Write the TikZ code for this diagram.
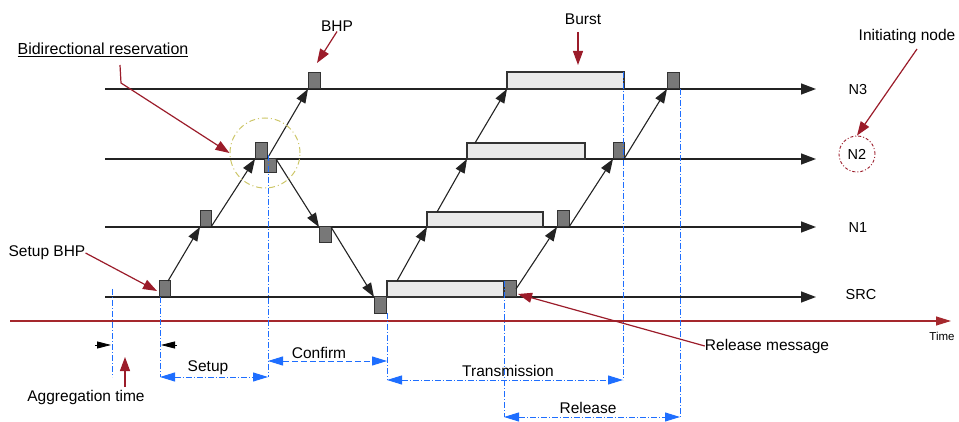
\documentclass[tikz,border=0pt]{standalone}
\usepackage{fontspec}
\setmainfont{Liberation Sans}
\usetikzlibrary{arrows.meta,calc}
\definecolor{leadred}{RGB}{155,28,42}
\definecolor{axisred}{RGB}{165,40,45}
\definecolor{dimblue}{RGB}{30,110,255}
\definecolor{ringyel}{RGB}{205,198,105}
\definecolor{bhpgray}{RGB}{120,120,120}
\definecolor{burstgray}{RGB}{234,234,234}
\definecolor{linegray}{RGB}{35,35,35}

\begin{document}
\begin{tikzpicture}[x=1pt,y=-1pt,
  lbl/.style={font=\fontsize{15.5}{18}\selectfont, inner sep=0pt},
  nodelbl/.style={font=\fontsize{14.5}{17}\selectfont, inner sep=0pt},
  timeline/.style={draw=linegray, line width=1.4pt, -{Triangle[length=15pt,width=11pt]}},
  sig/.style={draw=linegray, line width=1.1pt, -{Triangle[length=14pt,width=10pt]}},
  bhp/.style={draw=black!80, fill=bhpgray, line width=1pt, inner sep=0pt, outer sep=0pt, minimum width=11pt, minimum height=16pt},
  burst/.style={draw=black!80, fill=burstgray, line width=1.1pt, inner sep=0pt, outer sep=0pt, minimum height=16pt},
  lead/.style={draw=leadred, line width=1.2pt, -{Triangle[length=14pt,width=10pt]}},
  guide/.style={draw=dimblue, line width=1pt, dash pattern=on 6pt off 2pt on 1pt off 2pt},
  dim/.style={guide, {Triangle[length=15pt,width=9pt]}-{Triangle[length=15pt,width=9pt]}},
  aggtip/.style={draw=black, line width=0.8pt, -{Triangle[length=14pt,width=7pt]}},
]
\useasboundingbox (0,0) rectangle (959,422);

% ---- time lines of the four nodes and the time axis
\coordinate (n3a) at (105,89);  \coordinate (n3b) at (816,89);
\coordinate (n2a) at (105,159); \coordinate (n2b) at (816,159);
\coordinate (n1a) at (105,227); \coordinate (n1b) at (816,227);
\coordinate (sa)  at (105,297); \coordinate (sb)  at (816,297);
\coordinate (ta)  at (10,321);  \coordinate (tb)  at (951,321);
\draw[timeline] (n3a) -- (n3b);
\draw[timeline] (n2a) -- (n2b);
\draw[timeline] (n1a) -- (n1b);
\draw[timeline] (sa) -- (sb);
\draw[draw=axisred, line width=1.1pt, -{Triangle[length=15pt,width=9pt]}] (ta) -- (tb);

\node[nodelbl] (n3) at (858,90) {N3};
\node[nodelbl, circle, draw=leadred, line width=0.9pt, dash pattern=on 3pt off 2pt on 1pt off 2pt, minimum size=36pt] (n2) at (857,154) {N2};
\node[nodelbl] (n1) at (858,228) {N1};
\node[nodelbl] (src) at (861,295) {SRC};
\node[font=\fontsize{11.5}{13}\selectfont, inner sep=0pt] (time) at (942,336) {Time};

% ---- setup BHP travelling upwards
\node[bhp, anchor=south west] (bS) at (159,297) {};
\node[bhp, anchor=south west] (b1) at (200,227) {};
\node[bhp, anchor=south west, minimum width=12pt] (b2a) at (255,159) {};
\node[bhp, anchor=north west, minimum width=12pt, minimum height=14pt] (b2b) at (264,159) {};
\node[bhp, anchor=south west, minimum width=12pt] (b3) at (308,89) {};
% ---- confirmation travelling back down
\node[bhp, anchor=north west, minimum width=12pt] (c1) at (319,227) {};
\node[bhp, anchor=north west, minimum width=12pt] (cS) at (374,297) {};
% ---- bursts
\node[burst, anchor=south west, minimum width=117pt] (uS) at (387,297) {};
\node[burst, anchor=south west, minimum width=116pt, minimum height=15pt] (u1) at (427,227) {};
\node[burst, anchor=south west, minimum width=118pt] (u2) at (467,159) {};
\node[burst, anchor=south west, minimum width=117pt, minimum height=17pt] (u3) at (507,89) {};
% ---- release messages
\node[bhp, anchor=south west, minimum width=12pt] (rS) at (504,297) {};
\node[bhp, anchor=south west, minimum width=12pt] (r1) at (557,227) {};
\node[bhp, anchor=south west] (r2) at (613,159) {};
\node[bhp, anchor=south west, minimum width=12pt] (r3) at (667,89) {};

% ---- signalling arrows
\draw[sig] ([xshift=-2pt]bS.north east) -- (b1.south west);
\draw[sig] (b1.south east) -- (b2a.south west);
\draw[sig] (b2a.south east) -- (b3.south west);
\draw[sig] (b2b.north east) -- (c1.north west);
\draw[sig] (c1.north east) -- (cS.north west);
\draw[sig] ([xshift=10pt]uS.north west) -- (u1.south west);
\draw[sig] ([xshift=10pt]u1.north west) -- (u2.south west);
\draw[sig] ([xshift=8pt]u2.north west) -- (u3.south west);
\draw[sig] (rS.east) -- (r1.south west);
\draw[sig] (r1.south east) -- (r2.south west);
\draw[sig] (r2.south east) -- (r3.south west);

% ---- highlighted bidirectional reservation
\node[circle, draw=ringyel, line width=1pt, dash pattern=on 6pt off 3pt on 1pt off 3pt, minimum size=70pt, inner sep=0pt] (ring) at (265,153) {};

% ---- blue guide lines
\coordinate (g0a) at (112,289); \coordinate (g0b) at (112,377);
\coordinate (g1a) at (160,297); \coordinate (g1b) at (160,377);
\coordinate (g2a) at (268,155); \coordinate (g2b) at (268,377);
\coordinate (g3a) at (387,313); \coordinate (g3b) at (387,380);
\coordinate (g4a) at (623,72);  \coordinate (g4b) at (623,380);
\coordinate (g5a) at (504,281); \coordinate (g5b) at (504,417);
\coordinate (g6a) at (680,89);  \coordinate (g6b) at (680,417);
\foreach \g in {0,...,6} \draw[guide] (g\g a) -- (g\g b);

% ---- interval markers
\coordinate (aggL) at (95,345);  \coordinate (aggLt) at (111,345);
\coordinate (aggR) at (177,345); \coordinate (aggRt) at (161,345);
\draw[aggtip] (aggL) -- (aggLt);
\draw[aggtip] (aggR) -- (aggRt);

\coordinate (setL) at (160,377); \coordinate (setR) at (268,377);
\coordinate (conL) at (268,361); \coordinate (conR) at (387,361);
\coordinate (traL) at (387,380); \coordinate (traR) at (623,380);
\coordinate (relL) at (504,417); \coordinate (relR) at (680,417);
\draw[dim] (setL) -- (setR);
\draw[dim, dash pattern=on 6pt off 3pt] (conL) -- (conR);
\draw[dim] (traL) -- (traR);
\draw[dim] (relL) -- (relR);

\node[lbl] (setup) at (208,368) {Setup};
\node[lbl] (confirm) at (319,353) {Confirm};
\node[lbl] (trans) at (508,371) {Transmission};
\node[lbl] (release) at (588,408) {Release};

% ---- annotations with red leaders
\node[lbl, font=\fontsize{16}{19}\selectfont] (bidir) at (103,50) {\underline{Bidirectional\ reservation}};
\coordinate (bidirA) at (120,65);
\coordinate (bidirB) at (121,83);
\draw[lead] (bidirA) -- (bidirB) -- (ring.west);

\node[lbl] (bhplbl) at (337,26) {BHP};
\coordinate (bhptip) at (317,63);
\draw[lead] (bhplbl.south) -- (bhptip);

\node[lbl] (burstlbl) at (583,19) {Burst};
\coordinate (bursttop) at (578,32);
\coordinate (bursttip) at (578,65);
\draw[lead] (bursttop) -- (bursttip);

\node[lbl] (initlbl) at (907,36) {Initiating node};
\coordinate (inittop) at (917,49);
\draw[lead] (inittop) -- (n2.north);

\node[lbl] (setupbhp) at (47,253) {Setup BHP};
\coordinate (sbtip) at (157,291);
\draw[lead] (setupbhp.east) -- (sbtip);

\node[lbl] (relmsg) at (767,346) {Release message};
\coordinate (rmtip) at (518,294);
\draw[lead] (relmsg.west) -- (rmtip);

\node[lbl] (agglbl) at (86,397) {Aggregation time};
\coordinate (aggbot) at (125,387);
\coordinate (aggtop) at (125,357);
\draw[lead] (aggbot) -- (aggtop);
\end{tikzpicture}
\end{document}
